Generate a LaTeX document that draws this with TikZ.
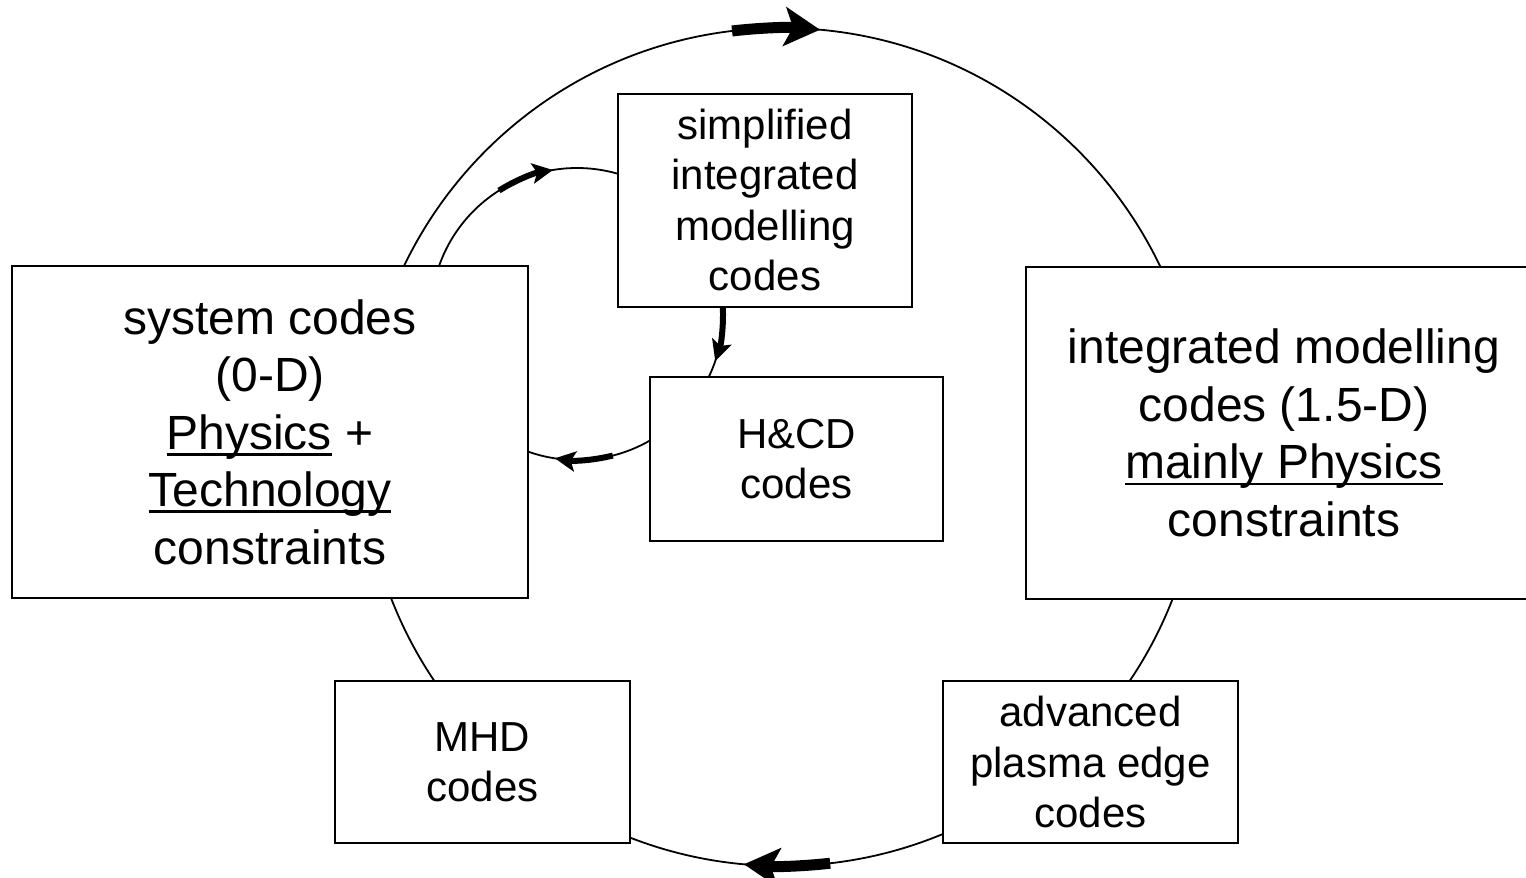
\documentclass[tikz,border=0pt]{standalone}
\usepackage{fontspec}
\setmainfont{Liberation Sans}
\usetikzlibrary{arrows.meta}
% underline drawn just below the baseline, crossing descenders
\newcommand\ulx[1]{\setbox0=\hbox{#1}\rlap{\rule[-6.5pt]{\wd0}{2.8pt}}\box0\relax}
\begin{document}
\begin{tikzpicture}[x=1pt,y=-1pt,
  box/.style={draw, line width=2pt, fill=white, align=center, inner sep=0pt},
  bigtxt/.style={font=\fontsize{48}{57.5}\selectfont},
  smalltxt/.style={font=\fontsize{42}{50.5}\selectfont},
  ring/.style={line width=1.8pt},
  bigarrow/.style={line width=11pt, -{Stealth[length=36pt,width=40pt,inset=9pt,line width=0pt]}},
  smallarrow/.style={line width=6pt, -{Stealth[length=21pt,width=21pt,inset=5pt,line width=0pt]}}]
\useasboundingbox (0,0) rectangle (1526,878);
\clip (0,0) rectangle (1526,878);

% outer and inner cycles
\coordinate (O) at (782,447);
\coordinate (o) at (577,314);
\draw[ring] (O) circle[radius=419];
\draw[ring] (o) circle[radius=146];

% code boxes
\node[box, bigtxt, minimum width=516pt, minimum height=332pt] (sys) at (270,432)
  {system codes\\(0-D)\\\ulx{Physics} +\\\ulx{Technology}\\constraints};
\node[box, bigtxt, minimum width=516pt, minimum height=332pt] (ims) at (1284,433)
  {integrated modelling\\codes (1.5-D)\\\ulx{mainly Physics}\\constraints};
\node[box, smalltxt, minimum width=294pt, minimum height=213pt] (simp) at (765,200)
  {simplified\\integrated\\modelling\\codes};
\node[box, smalltxt, minimum width=293pt, minimum height=164pt] (hcd) at (796.5,459)
  {H\&CD\\codes};
\node[box, smalltxt, minimum width=295pt, minimum height=162pt] (mhd) at (482.5,762)
  {MHD\\codes};
\node[box, smalltxt, minimum width=295pt, minimum height=162pt] (edge) at (1090.5,762)
  {advanced\\plasma edge\\codes};

% direction arrows on the cycles
\draw[bigarrow] ([shift={(-96.85:419)}]O) arc[start angle=-96.85, end angle=-84.8, radius=419];
\draw[bigarrow] ([shift={(83.4:419)}]O) arc[start angle=83.4, end angle=95.2, radius=419];
\draw[smallarrow] ([shift={(-122.3:146)}]o) arc[start angle=-122.3, end angle=-99.5, radius=146];
\draw[smallarrow] ([shift={(-2.7:146)}]o) arc[start angle=-2.7, end angle=18.8, radius=146];
\draw[smallarrow] ([shift={(75.8:146)}]o) arc[start angle=75.8, end angle=98.7, radius=146];
\end{tikzpicture}
\end{document}
